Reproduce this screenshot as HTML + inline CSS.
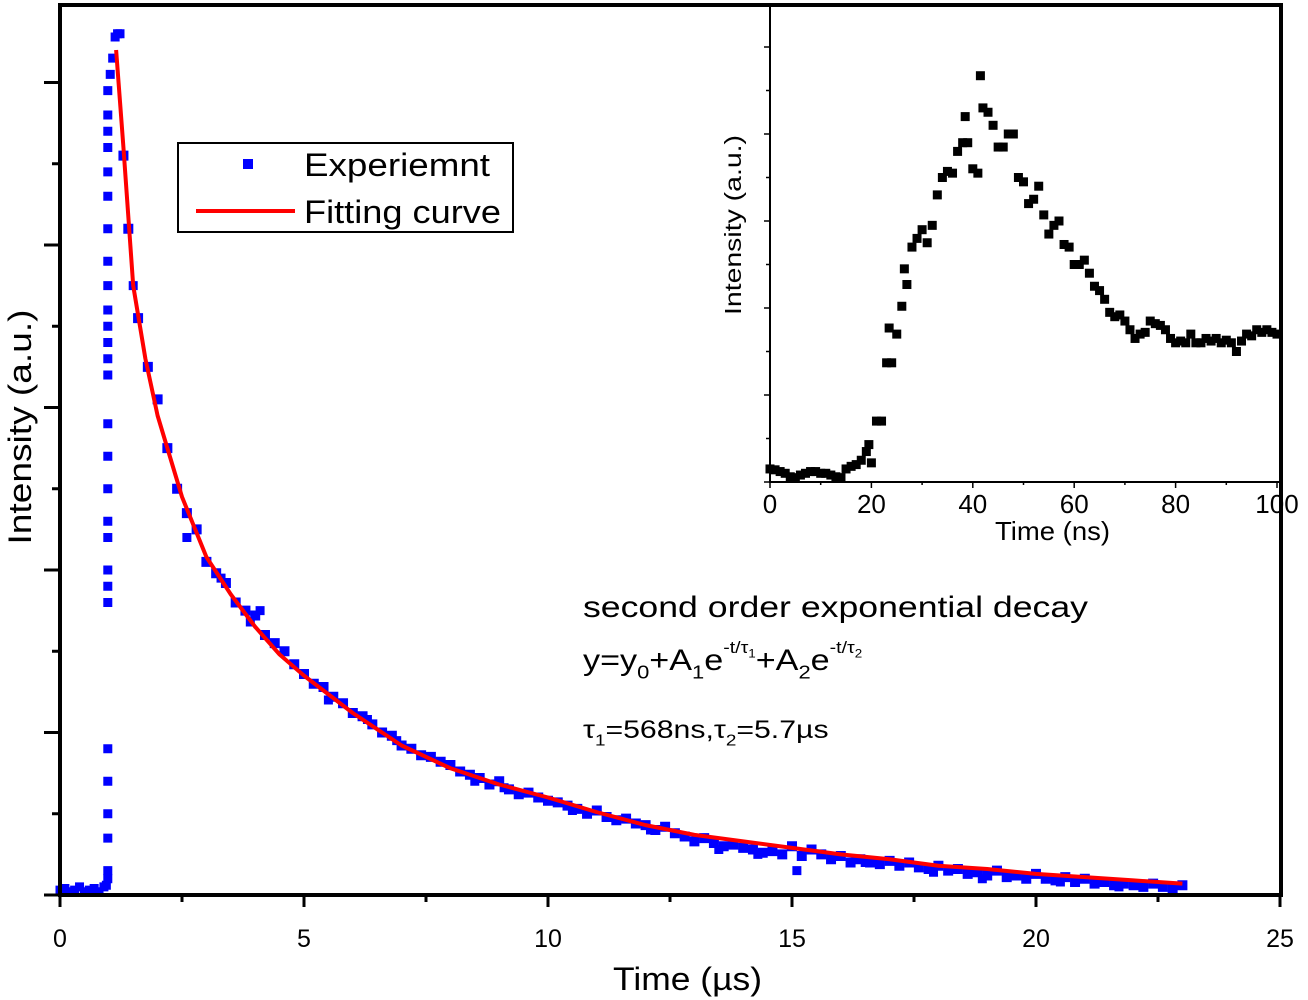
<!DOCTYPE html>
<html><head><meta charset="utf-8"><style>
html,body{margin:0;padding:0;background:#fff;}
svg{display:block;font-family:"Liberation Sans",Arial,sans-serif;}
</style></head><body>
<svg id="chart" width="1308" height="1000" viewBox="0 0 1308 1000" xmlns="http://www.w3.org/2000/svg">
<g id="main"></g>
<g id="inset"></g>
</svg>
<script>
// ---------- main data ----------
const mainXTicks = [0,5,10,15,20,25];
const baseT = [0.0,0.1,0.2,0.3,0.4,0.5,0.6,0.7,0.8,0.9,0.95];
const baseY = [0.03,0.04,0.02,0.03,0.05,0.02,0.03,0.04,0.02,0.05,0.06];
const riseT = [1.0,1.0,1.0,1.0,1.0,1.0,1.0,1.0,1.0,1.0,1.0,1.0,1.0,1.0,1.0,1.0,1.0,1.0,1.0,1.0,1.0,1.0,1.0,1.0,1.0,1.0,1.0,1.0,1.05,1.1,1.15,1.2,1.25];
const riseY = [0.1,0.15,0.35,0.5,0.7,0.9,1.8,1.9,2.0,2.2,2.3,2.5,2.7,2.9,3.2,3.3,3.4,3.5,3.6,3.75,3.9,4.1,4.3,4.45,4.6,4.7,4.8,4.95,5.05,5.15,5.28,5.3,5.3];
const expT = [1.3,1.4,1.6,1.8,2.0,2.2,2.4,2.6,2.8,3.0,3.2,3.4,3.6,3.8,4.0,4.2,4.4,4.6,4.8,5.0,5.2,5.4,5.6,5.8,6.0,6.2,6.4,6.6,6.8,7.0,7.2,7.4,7.6,7.8,8.0,8.2,8.4,8.6,8.8,9.0,9.2,9.4,9.6,9.8,10,10.2,10.4,10.6,10.8,11,11.2,11.4,11.6,11.8,12,12.2,12.4,12.6,12.8,13,13.2,13.4,13.6,13.8,14,14.2,14.4,14.6,14.8,15,15.2,15.4,15.6,15.8,16,16.2,16.4,16.6,16.8,17,17.2,17.4,17.6,17.8,18,18.2,18.4,18.6,18.8,19,19.2,19.4,19.6,19.8,20,20.2,20.4,20.6,20.8,21,21.2,21.4,21.6,21.8,22,22.2,22.4,22.6,22.8,23];
const expY = [4.55,4.1,3.55,3.25,3.05,2.75,2.5,2.35,2.25,2.05,1.98,1.92,1.8,1.75,1.72,1.6,1.55,1.5,1.42,1.36,1.3,1.28,1.22,1.18,1.12,1.1,1.05,1.0,0.98,0.92,0.9,0.86,0.85,0.82,0.8,0.76,0.74,0.72,0.68,0.7,0.65,0.62,0.63,0.6,0.58,0.57,0.55,0.53,0.5,0.52,0.48,0.46,0.47,0.44,0.43,0.4,0.42,0.38,0.36,0.33,0.35,0.32,0.3,0.31,0.29,0.28,0.26,0.27,0.25,0.3,0.24,0.28,0.25,0.22,0.24,0.2,0.22,0.2,0.19,0.21,0.18,0.2,0.17,0.16,0.18,0.15,0.16,0.13,0.14,0.12,0.15,0.11,0.12,0.1,0.13,0.1,0.09,0.11,0.08,0.1,0.07,0.08,0.06,0.07,0.06,0.05,0.07,0.05,0.04,0.06];
const noiseT = [1.5,2.6,3.3,3.9,4.1,5.5,6.3,6.9,8.5,9.1,10.5,12.1,13.5,14.3,15.1,16.5,17.9,18.9,20.5,21.7];
const noiseY = [3.75,2.2,1.95,1.68,1.75,1.2,1.08,0.95,0.7,0.66,0.52,0.4,0.28,0.25,0.15,0.2,0.14,0.1,0.08,0.05];
const fitT = [1.15,1.3,1.5,1.75,2,2.5,3,3.5,4,4.5,5,6,7,8,9,10,11,12,13,14,15,16,17,18,19,20,21,22,23];
const fitY = [5.2,4.6,3.75,3.3,2.95,2.45,2.08,1.85,1.65,1.48,1.35,1.12,0.92,0.78,0.68,0.6,0.51,0.43,0.37,0.33,0.29,0.25,0.22,0.18,0.16,0.13,0.11,0.09,0.07];
// ---------- inset data ----------
const insetXTicks = [0,20,40,60,80,100];
const insT = [0,1,2,3,4,5,6,7,8,9,10,11,12,13,14,15,16,17,18,19,19.5,20,21,22,23,23.5,24,25,26,26.5,27,28,29,30,31,32,33,34,35,36,37,38,38.5,39,40,41,41.5,42,43,44,45,46,47,48,49,50,51,52,53,54,55,56,57,58,59,60,61,62,63,64,65,66,67,68,69,70,71,72,73,74,75,76,77,78,79,80,81,82,83,84,85,86,87,88,89,90,91,92,93,94,95,96,97,98,99,100];
const insY = [0.15,0.14,0.12,0.1,0.06,0.05,0.08,0.1,0.12,0.12,0.1,0.1,0.08,0.06,0.05,0.15,0.18,0.2,0.25,0.35,0.43,0.22,0.7,0.7,1.37,1.77,1.37,1.7,2.02,2.45,2.27,2.7,2.8,2.9,2.75,2.95,3.3,3.5,3.57,3.55,3.8,3.9,4.2,3.9,3.6,3.55,4.67,4.3,4.25,4.1,3.85,3.85,4.0,4.0,3.5,3.45,3.2,3.25,3.4,3.07,2.85,2.95,3.0,2.73,2.7,2.5,2.5,2.55,2.4,2.25,2.2,2.1,1.95,1.9,1.92,1.85,1.75,1.65,1.7,1.72,1.85,1.82,1.8,1.75,1.65,1.6,1.62,1.6,1.7,1.6,1.6,1.65,1.62,1.65,1.6,1.63,1.6,1.5,1.62,1.7,1.68,1.75,1.72,1.75,1.72,1.7];

const NS='http://www.w3.org/2000/svg';
function el(tag, attrs, parent, text){const e=document.createElementNS(NS,tag);for(const k in attrs)e.setAttribute(k,attrs[k]);if(text!==undefined)e.textContent=text;parent.appendChild(e);return e;}

const mx = v => 60 + v*48.8;
const my = v => 895 - v*162.5;
const ix = v => 770 + v*5.07;
const iy = v => 482 - v*87;

const main=document.getElementById('main');
const inset=document.getElementById('inset');

const pts=el('g',{},main);


function sq(g,x,y,s,c){return el('rect',{x:x-s/2,y:y-s/2,width:s,height:s,fill:c},g);}
baseT.forEach((t,i)=>{const r=sq(pts,mx(t),my(baseY[i]),9,'#0000ff');});
riseT.forEach((t,i)=>{const r=sq(pts,mx(t)-1,my(riseY[i]),9,'#0000ff');});
expT.forEach((t,i)=>{const r=sq(pts,mx(t),my(expY[i]),10,'#0000ff');});
noiseT.forEach((t,i)=>{const r=sq(pts,mx(t),my(noiseY[i]),9,'#0000ff');});

const fit=el('polyline',{points:fitT.map((t,i)=>mx(t)+','+my(fitY[i])).join(' '),fill:'none',stroke:'#ff0000','stroke-width':4,'stroke-linejoin':'round'},main);



const frame=el('rect',{x:60,y:5,width:1221,height:890,fill:'none',stroke:'#000','stroke-width':4},main);


for(let v=0;v<=5.25;v+=0.5){const major=Math.abs(v-Math.round(v))<0.01;const t=el('line',{x1:60,x2:major?44:52,y1:my(v),y2:my(v),stroke:'#000','stroke-width':3},main);}
for(let v=0;v<=25;v+=2.5){const t=el('line',{x1:mx(v),x2:mx(v),y1:895,y2:v%5===0?907:902,stroke:'#000','stroke-width':3},main);}
mainXTicks.forEach(v=>{const t=el('text',{x:mx(v),y:947,'font-size':25,'text-anchor':'middle',fill:'#000'},main,String(v));});
const xt=el('text',{x:613,y:990,'font-size':32,textLength:149,lengthAdjust:'spacingAndGlyphs'},main,'Time (µs)');

const yt=el('text',{x:0,y:0,'font-size':32,'text-anchor':'middle',textLength:235,lengthAdjust:'spacingAndGlyphs',transform:'translate(31,427) rotate(-90)'},main,'Intensity (a.u.)');


const lg=el('g',{},main);

el('rect',{x:178,y:143,width:335,height:89,fill:'#fff',stroke:'#000','stroke-width':2},lg);
el('rect',{x:243,y:159,width:10,height:10,fill:'#0000ff'},lg);
const l1=el('text',{x:304,y:176,'font-size':32,textLength:186,lengthAdjust:'spacingAndGlyphs'},lg,'Experiemnt');

el('line',{x1:196,x2:295,y1:211,y2:211,stroke:'#ff0000','stroke-width':4},lg);
const l2=el('text',{x:304,y:223,'font-size':32,textLength:197,lengthAdjust:'spacingAndGlyphs'},lg,'Fitting curve');


const an=el('g',{},main);

el('text',{x:583,y:617,'font-size':30,textLength:505,lengthAdjust:'spacingAndGlyphs'},an,'second order exponential decay');
const fg=el('g',{transform:'translate(583,670) scale(1.22,1.05)'},an);
const f=el('text',{x:0,y:0,'font-size':28},fg);
f.innerHTML='y=y<tspan font-size="18" dy="8">0</tspan><tspan dy="-8">+A</tspan><tspan font-size="18" dy="8">1</tspan><tspan dy="-8">e</tspan><tspan font-size="16" dy="-16">-t/τ</tspan><tspan font-size="11" dy="4">1</tspan><tspan dy="12">+A</tspan><tspan font-size="18" dy="8">2</tspan><tspan dy="-8">e</tspan><tspan font-size="16" dy="-16">-t/τ</tspan><tspan font-size="11" dy="4">2</tspan>';
const tg=el('g',{transform:'translate(583,738) scale(1.26,1.05)'},an);
const tau=el('text',{x:0,y:0,'font-size':24},tg);
tau.innerHTML='τ<tspan font-size="15" dy="7">1</tspan><tspan dy="-7">=568ns,τ</tspan><tspan font-size="15" dy="7">2</tspan><tspan dy="-7">=5.7µs</tspan>';

const ip=el('g',{},inset);

insT.forEach((t,i)=>{const r=sq(ip,ix(t),iy(insY[i]),9,'#000');});
const ia=el('path',{d:'M770,5 L770,482 L1281,482',fill:'none',stroke:'#000','stroke-width':2},inset);

for(let v=0;v<=5.4;v+=0.5){const major=Math.abs(v-Math.round(v))<0.01;const t=el('line',{x1:770,x2:major?764:766,y1:iy(v),y2:iy(v),stroke:'#000','stroke-width':1.5},inset);}
for(let v=0;v<=100;v+=10){const t=el('line',{x1:ix(v),x2:ix(v),y1:482,y2:v%20===0?488:485,stroke:'#000','stroke-width':1.5},inset);}
insetXTicks.forEach(v=>{const t=el('text',{x:ix(v),y:513,'font-size':26,'text-anchor':'middle'},inset,String(v));});
const ixt=el('text',{x:995,y:540,'font-size':26,textLength:115,lengthAdjust:'spacingAndGlyphs'},inset,'Time (ns)');

const iyt=el('text',{x:0,y:0,'font-size':23,'text-anchor':'middle',textLength:180,lengthAdjust:'spacingAndGlyphs',transform:'translate(741,225) rotate(-90)'},inset,'Intensity (a.u.)');

</script>
</body></html>
